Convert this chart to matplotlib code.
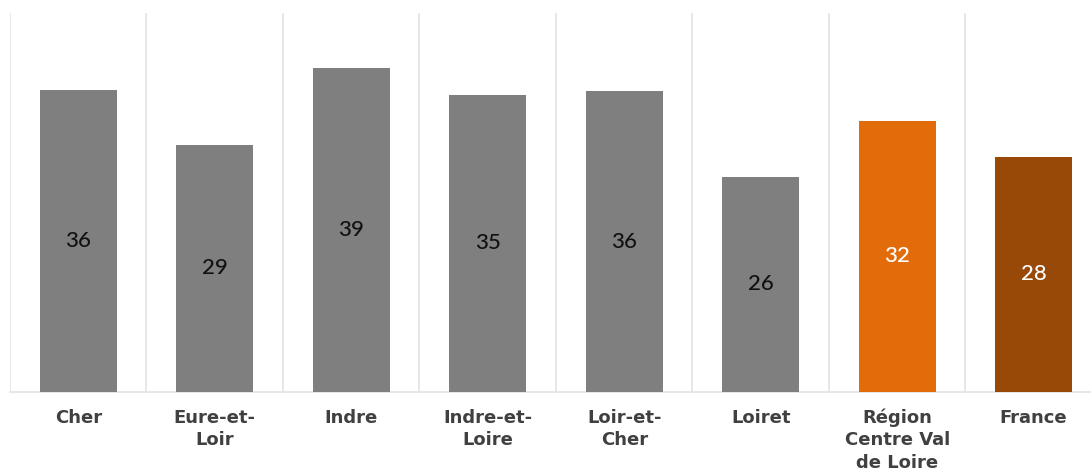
import matplotlib.pyplot as plt

categories = ['Cher', 'Eure-et-\nLoir', 'Indre', 'Indre-et-\nLoire', 'Loir-et-\nCher',
              'Loiret', 'Région\nCentre Val\nde Loire', 'France']
values = [35.9, 29.4, 38.6, 35.4, 35.8, 25.6, 32.3, 28.0]
colors = ['#7f7f7f'] * 6 + ['#e36c0a', '#984807']
label_colors = ['#111111'] * 6 + ['#ffffff', '#ffffff']

fig = plt.figure(figsize=(10.91, 4.75), dpi=100)
ax = fig.add_axes([10 / 1091, 83 / 475, 1 - 10 / 1091, 379 / 475])

x = range(len(categories))
bars = ax.bar(x, values, width=0.565, color=colors, zorder=3)

# valeurs au centre des barres
for b, v, c in zip(bars, values, label_colors):
    ax.text(b.get_x() + b.get_width() / 2, v / 2, f'{v:.0f}', ha='center', va='center',
            fontsize=16, color=c, family='Lato', fontweight='medium', zorder=4)

# lignes verticales entre catégories
for i in range(len(categories) + 1):
    ax.axvline(i - 0.5, color='#e3e3e3', lw=1.2, zorder=1)

ax.set_xlim(-0.5, 7.42)
ax.set_ylim(0, 45.1)
ax.set_xticks(list(x))
ax.set_xticklabels(categories, fontsize=13, fontweight='bold', color='#404040',
                   linespacing=1.3)
ax.tick_params(axis='x', length=0, pad=12)
ax.set_yticks([])
for s in ['top', 'right', 'left']:
    ax.spines[s].set_visible(False)
ax.spines['bottom'].set_color('#e3e3e3')
ax.spines['bottom'].set_linewidth(1.2)

fig.savefig('out.png', dpi=100)
